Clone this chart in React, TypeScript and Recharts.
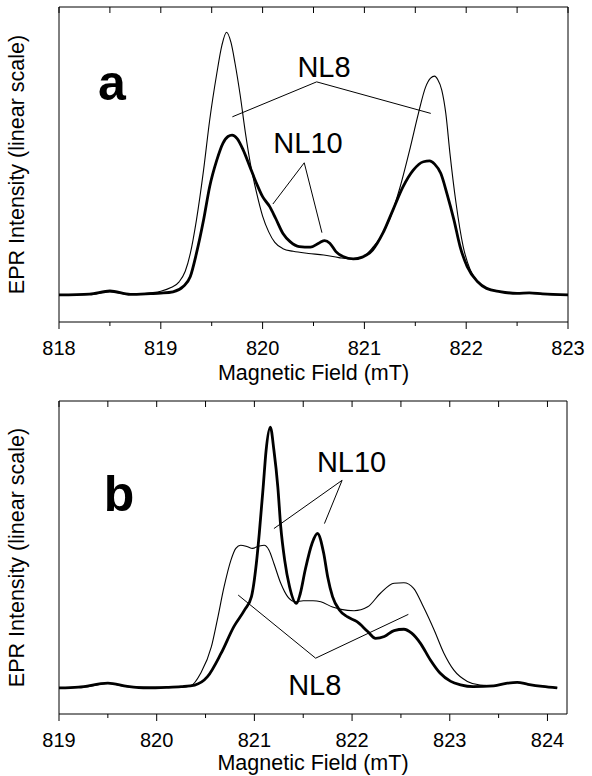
import { LineChart, Line, XAxis, YAxis, ReferenceLine, ReferenceDot } from "recharts";

const FONT = '"Liberation Sans", Arial, Helvetica, sans-serif';

// panel a: field (mT) and intensity
const fieldA8 = [818.0, 818.3, 818.5, 818.7, 818.9, 819.0, 819.1, 819.18, 819.24, 819.29, 819.35, 819.42, 819.48, 819.55, 819.6, 819.646, 819.69, 819.73, 819.78, 819.83, 819.88, 819.94, 820.0, 820.06, 820.12, 820.2, 820.3, 820.45, 820.6, 820.75, 820.9, 821.0, 821.08, 821.15, 821.25, 821.35, 821.45, 821.53, 821.6, 821.65, 821.69, 821.72, 821.76, 821.8, 821.84, 821.9, 821.97, 822.04, 822.13, 822.23, 822.35, 822.5, 822.65, 822.8, 823.0];
const nl8A = [0.0, 0.002, 0.012, 0.002, 0.008, 0.014, 0.028, 0.05, 0.09, 0.158, 0.285, 0.475, 0.665, 0.843, 0.95, 1.0, 0.96, 0.88, 0.76, 0.62, 0.5, 0.39, 0.3, 0.24, 0.2, 0.176, 0.166, 0.158, 0.152, 0.142, 0.136, 0.148, 0.18, 0.215, 0.29, 0.41, 0.56, 0.69, 0.79, 0.825, 0.833, 0.82, 0.78, 0.69, 0.54, 0.35, 0.185, 0.095, 0.044, 0.022, 0.012, 0.006, 0.006, 0.002, 0.0];

const fieldA10 = [818.0, 818.3, 818.5, 818.7, 818.9, 819.0, 819.12, 819.22, 819.29, 819.35, 819.42, 819.48, 819.55, 819.61, 819.66, 819.7, 819.75, 819.81, 819.875, 819.94, 820.0, 820.07, 820.13, 820.2, 820.27, 820.36, 820.47, 820.56, 820.61, 820.66, 820.72, 820.79, 820.89, 820.98, 821.08, 821.18, 821.28, 821.38, 821.48, 821.58, 821.64, 821.69, 821.75, 821.81, 821.88, 821.94, 822.01, 822.11, 822.2, 822.33, 822.5, 822.62, 822.75, 823.0];
const nl10A = [0.0, 0.003, 0.015, 0.002, 0.005, 0.007, 0.012, 0.032, 0.07, 0.158, 0.285, 0.412, 0.513, 0.577, 0.603, 0.608, 0.595, 0.551, 0.488, 0.425, 0.374, 0.336, 0.29, 0.234, 0.203, 0.184, 0.182, 0.199, 0.207, 0.197, 0.165, 0.146, 0.137, 0.144, 0.171, 0.234, 0.323, 0.412, 0.475, 0.507, 0.51, 0.498, 0.463, 0.387, 0.285, 0.184, 0.108, 0.051, 0.025, 0.013, 0.006, 0.008, 0.004, 0.0];

// panel b
const fieldB8 = [819.0, 819.3, 819.5, 819.7, 820.0, 820.25, 820.35, 820.45, 820.56, 820.62, 820.69, 820.76, 820.81, 820.86, 820.93, 820.98, 821.05, 821.1, 821.15, 821.2, 821.27, 821.34, 821.42, 821.5, 821.6, 821.68, 821.8, 821.887, 822.02, 822.16, 822.29, 822.43, 822.53, 822.63, 822.73, 822.84, 822.94, 823.04, 823.18, 823.31, 823.45, 823.59, 823.69, 823.8, 823.95, 824.1];
const nl8B = [0.0, 0.005, 0.018, 0.005, 0.003, 0.002, 0.008, 0.056, 0.158, 0.26, 0.388, 0.49, 0.535, 0.547, 0.541, 0.535, 0.544, 0.547, 0.528, 0.477, 0.401, 0.35, 0.33, 0.334, 0.334, 0.33, 0.31, 0.301, 0.296, 0.311, 0.363, 0.401, 0.403, 0.382, 0.311, 0.222, 0.133, 0.069, 0.025, 0.011, 0.008, 0.018, 0.021, 0.014, 0.006, 0.0];

const fieldB10 = [819.0, 819.2, 819.5, 819.7, 819.9, 820.1, 820.25, 820.39, 820.52, 820.66, 820.79, 820.9, 820.97, 821.02, 821.05, 821.09, 821.12, 821.163, 821.2, 821.24, 821.27, 821.31, 821.36, 821.43, 821.47, 821.52, 821.59, 821.645, 821.71, 821.75, 821.8, 821.87, 821.95, 822.05, 822.16, 822.24, 822.33, 822.43, 822.53, 822.61, 822.7, 822.8, 822.9, 823.01, 823.11, 823.24, 823.45, 823.59, 823.69, 823.8, 823.95, 824.1];
const nl10B = [0.0, 0.003, 0.018, 0.006, 0.0, 0.002, 0.005, 0.011, 0.043, 0.133, 0.235, 0.299, 0.35, 0.477, 0.592, 0.77, 0.911, 1.0, 0.911, 0.77, 0.617, 0.49, 0.388, 0.324, 0.362, 0.452, 0.554, 0.592, 0.515, 0.426, 0.35, 0.299, 0.273, 0.254, 0.216, 0.19, 0.197, 0.22, 0.225, 0.21, 0.171, 0.108, 0.057, 0.025, 0.012, 0.005, 0.008, 0.018, 0.021, 0.014, 0.006, 0.0];

const ticksA = [818, 818.5, 819, 819.5, 820, 820.5, 821, 821.5, 822, 822.5, 823];
const ticksB = [819, 819.5, 820, 820.5, 821, 821.5, 822, 822.5, 823, 823.5, 824];

const toRows = (f: number[], v: number[]) => f.map((x, i) => ({ f: x, v: v[i] }));

type Pt = [number, number];
type Note = { text: string; f: number; v: number; big?: boolean };

const notesA: Note[] = [
  { text: "a", f: 818.52, v: 0.81, big: true },
  { text: "NL8", f: 820.603, v: 0.867 },
  { text: "NL10", f: 820.446, v: 0.578 },
];
const pointersA: Pt[][] = [
  [[819.703, 0.678], [820.531, 0.811], [821.652, 0.691]],
  [[820.101, 0.346], [820.409, 0.503], [820.583, 0.237]],
];
const notesB: Note[] = [
  { text: "b", f: 819.614, v: 0.746, big: true },
  { text: "NL10", f: 821.995, v: 0.869 },
  { text: "NL8", f: 821.618, v: 0.011 },
];
const pointersB: Pt[][] = [
  [[821.2, 0.611], [821.898, 0.796], [821.717, 0.63]],
  [[820.834, 0.356], [821.627, 0.114], [822.576, 0.282]],
];

const isMajor = (v: number) => Math.abs(v - Math.round(v)) < 1e-6;

function BottomTick(props: any) {
  const { x, y, payload } = props;
  const major = isMajor(payload.value);
  return (
    <g>
      <line x1={x} x2={x} y1={y} y2={y + (major ? 7 : 4)} stroke="#000" strokeWidth={1} />
      {major && (
        <text x={x} y={y + 26} textAnchor="middle" dominantBaseline="central" fontSize={20} fontFamily={FONT} fill="#000">
          {payload.value}
        </text>
      )}
    </g>
  );
}

function TopTick(props: any) {
  const { x, y } = props;
  return <line x1={x} x2={x} y1={y} y2={y + 6} stroke="#000" strokeWidth={1} />;
}

type PanelProps = {
  height: number;
  top: number;
  marginTop: number;
  marginRight: number;
  axisHeight: number;
  titleGap: number;
  domainX: [number, number];
  domainY: [number, number];
  ticks: number[];
  thin: { f: number; v: number }[];
  thick: { f: number; v: number }[];
  notes: Note[];
  pointers: Pt[][];
};

function Panel(p: PanelProps) {
  return (
    <div style={{ position: "absolute", left: 0, top: p.top }}>
      <LineChart width={592} height={p.height} margin={{ top: p.marginTop, right: p.marginRight, bottom: 0, left: 0 }}>
        <XAxis
          dataKey="f"
          type="number"
          domain={p.domainX}
          ticks={p.ticks}
          allowDataOverflow
          height={p.axisHeight}
          tickSize={0}
          tickMargin={0}
          tick={<BottomTick />}
          axisLine={{ stroke: "#000", strokeWidth: 1 }}
          tickLine={false}
          interval={0}
          label={{
            content: (lp: any) => {
              const vb = lp.viewBox || { x: 59, y: 0, width: 509 };
              return (
                <text x={vb.x + vb.width / 2} y={vb.y + p.titleGap} textAnchor="middle" fontSize={21.5} fontFamily={FONT} fill="#000">
                  Magnetic Field (mT)
                </text>
              );
            },
          }}
        />
        <XAxis
          xAxisId="top"
          orientation="top"
          dataKey="f"
          type="number"
          domain={p.domainX}
          ticks={p.ticks}
          allowDataOverflow
          height={1}
          tickSize={0}
          tickMargin={0}
          tick={<TopTick />}
          tickLine={false}
          interval={0}
          axisLine={{ stroke: "#000", strokeWidth: 1 }}
        />
        <YAxis
          type="number"
          domain={p.domainY}
          allowDataOverflow
          width={59}
          tick={false}
          tickLine={false}
          axisLine={{ stroke: "#000", strokeWidth: 1 }}
          label={{
            content: (lp: any) => {
              const vb = lp.viewBox || { y: 0, height: p.height };
              const cy = vb.y + vb.height / 2;
              return (
                <text x={17} y={cy} transform={`rotate(-90, 17, ${cy})`} textAnchor="middle" dominantBaseline="central" fontSize={21.5} fontFamily={FONT} fill="#000">
                  EPR Intensity (linear scale)
                </text>
              );
            },
          }}
        />
        <YAxis
          yAxisId="right"
          orientation="right"
          type="number"
          domain={p.domainY}
          allowDataOverflow
          width={1}
          tick={false}
          tickLine={false}
          axisLine={{ stroke: "#000", strokeWidth: 1 }}
        />
        <Line data={p.thin} dataKey="v" type="monotone" stroke="#000" strokeWidth={1.1} dot={false} activeDot={false} isAnimationActive={false} />
        <Line data={p.thick} dataKey="v" type="monotone" stroke="#000" strokeWidth={2.8} dot={false} activeDot={false} isAnimationActive={false} strokeLinejoin="round" />
        {p.pointers.map((pts, i) =>
          [0, 2].map((j) => (
            <ReferenceLine
              key={`ptr-${i}-${j}`}
              segment={[
                { x: pts[1][0], y: pts[1][1] },
                { x: pts[j][0], y: pts[j][1] },
              ]}
              stroke="#000"
              strokeWidth={1}
              ifOverflow="visible"
            />
          ))
        )}
        {p.notes.map((n) => (
          <ReferenceDot
            key={n.text}
            x={n.f}
            y={n.v}
            r={0}
            fill="none"
            stroke="none"
            ifOverflow="visible"
            label={{
              value: n.text,
              position: "center",
              fontSize: n.big ? 50 : 29,
              fontWeight: n.big ? "bold" : "normal",
              fontFamily: FONT,
              fill: "#000",
            }}
          />
        ))}
      </LineChart>
    </div>
  );
}

export default function App() {
  return (
    <div style={{ position: "absolute", left: 0, top: 0, width: 592, height: 776, background: "#fff" }}>
      <Panel
        height={390}
        top={0}
        marginTop={6}
        marginRight={23}
        axisHeight={68}
        titleGap={58}
        domainX={[818, 823]}
        domainY={[-0.103, 1.096]}
        ticks={ticksA}
        thin={toRows(fieldA8, nl8A)}
        thick={toRows(fieldA10, nl10A)}
        notes={notesA}
        pointers={pointersA}
      />
      <Panel
        height={386}
        top={390}
        marginTop={10}
        marginRight={24}
        axisHeight={62}
        titleGap={56}
        domainX={[819, 824.2]}
        domainY={[-0.1, 1.1]}
        ticks={ticksB}
        thin={toRows(fieldB8, nl8B)}
        thick={toRows(fieldB10, nl10B)}
        notes={notesB}
        pointers={pointersB}
      />
    </div>
  );
}
